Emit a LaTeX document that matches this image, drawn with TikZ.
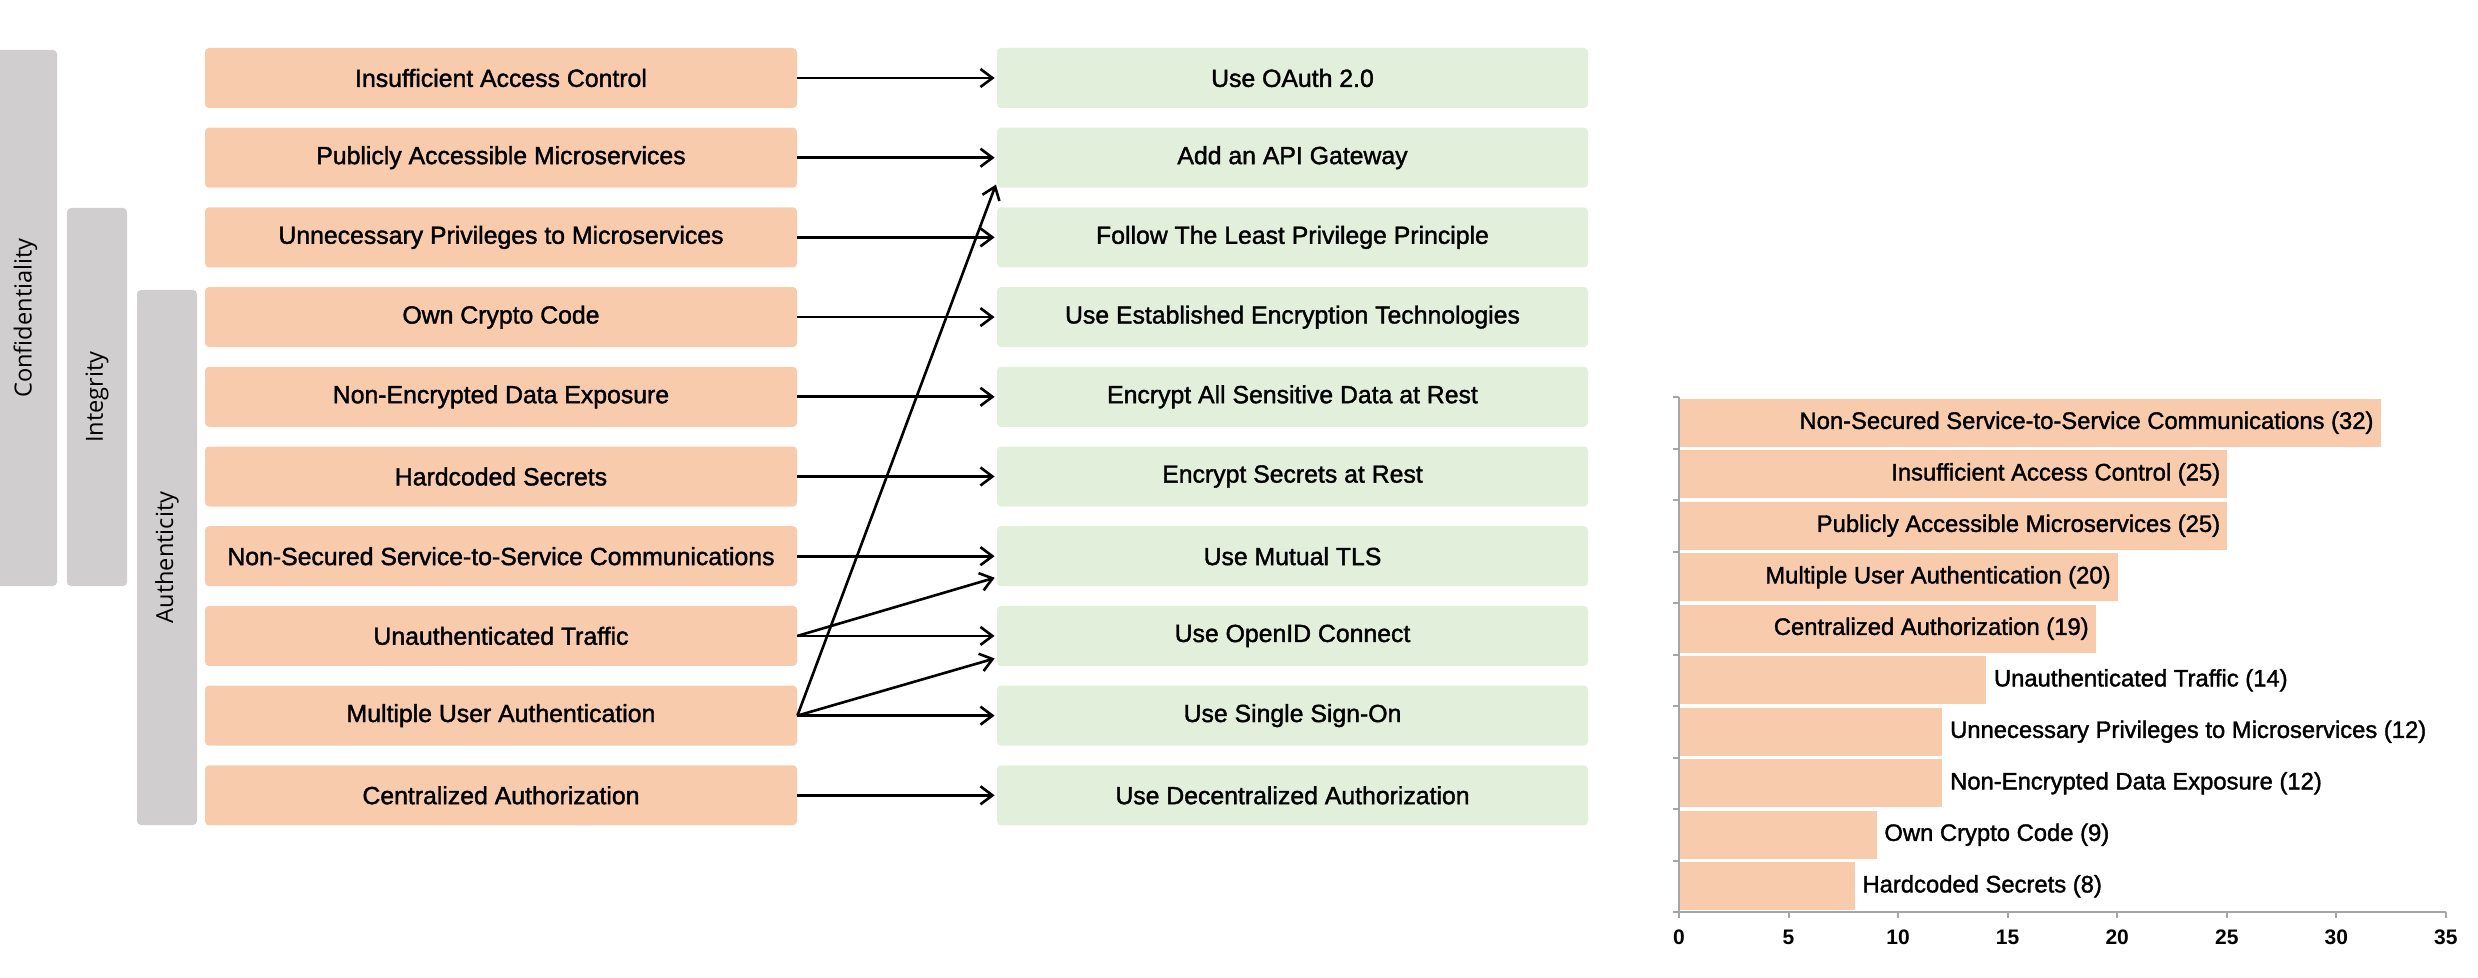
\documentclass[tikz,border=0pt]{standalone}
\usepackage{fontspec}
\setmainfont{Liberation Sans}
\newfontfamily\medfont{Liberation Sans}[FakeBold=1.5]
\newfontfamily\lblfont{Open Sans}
\usetikzlibrary{arrows.meta}
\definecolor{peach}{HTML}{F8CBAD}
\definecolor{mint}{HTML}{E2EFDA}
\definecolor{grpgray}{HTML}{D0CECE}
\definecolor{axisgray}{HTML}{A6A6A6}
\begin{document}
\begin{tikzpicture}[x=0.5pt,y=-0.5pt,
  prob/.style={fill=peach, rounded corners=2pt, minimum width=296pt, minimum height=30pt, inner sep=0pt, font=\medfont\fontsize{12.4}{15}\selectfont},
  sol/.style={fill=mint, rounded corners=2pt, minimum width=295.5pt, minimum height=30pt, inner sep=0pt, font=\medfont\fontsize{12.4}{15}\selectfont},
  grpbox/.style={fill=grpgray, rounded corners=2pt, rotate=90, inner sep=0pt, font=\lblfont\fontsize{11.8}{13}\selectfont},
  arr/.style={-{Straight Barb[length=6pt,width=9pt]}, line width=1.3pt, shorten >=1pt},
  barbox/.style={fill=peach, minimum height=24pt, inner sep=0pt, anchor=west},
  barlbl/.style={font=\medfont\fontsize{11.9}{14}\selectfont, inner sep=0pt},
  axisline/.style={draw=axisgray, line width=1pt},
  ticklbl/.style={font=\bfseries\fontsize{10.5}{12}\selectfont, inner sep=0pt}
]
\useasboundingbox (0,0) rectangle (2478,978);

% group bars
\node[grpbox, minimum width=268pt, minimum height=31.5pt] (conf) at (25.5,318) {Confidentiality};
\node[grpbox, minimum width=189pt, minimum height=30pt] (integ) at (97,397) {Integrity};
\node[grpbox, minimum width=267.5pt, minimum height=30pt] (auth) at (167,557.5) {Authenticity};

% problems
\node[prob] (p1) at (501,78) {Insufficient Access Control};
\node[prob] (p2) at (501,157.7) {Publicly Accessible Microservices};
\node[prob] (p3) at (501,237.4) {Unnecessary Privileges to Microservices};
\node[prob] (p4) at (501,317.1) {Own Crypto Code};
\node[prob] (p5) at (501,396.8) {Non-Encrypted Data Exposure};
\node[prob] (p6) at (501,476.5) {Hardcoded Secrets};
\node[prob] (p7) at (501,556.2) {Non-Secured Service-to-Service Communications};
\node[prob] (p8) at (501,635.9) {Unauthenticated Traffic};
\node[prob] (p9) at (501,715.6) {Multiple User Authentication};
\node[prob] (p10) at (501,795.3) {Centralized Authorization};

% solutions
\node[sol] (s1) at (1292.5,78) {Use OAuth 2.0};
\node[sol] (s2) at (1292.5,157.7) {Add an API Gateway};
\node[sol] (s3) at (1292.5,237.4) {Follow The Least Privilege Principle};
\node[sol] (s4) at (1292.5,317.1) {Use Established Encryption Technologies};
\node[sol] (s5) at (1292.5,396.8) {Encrypt All Sensitive Data at Rest};
\node[sol] (s6) at (1292.5,476.5) {Encrypt Secrets at Rest};
\node[sol] (s7) at (1292.5,556.2) {Use Mutual TLS};
\node[sol] (s8) at (1292.5,635.9) {Use OpenID Connect};
\node[sol] (s9) at (1292.5,715.6) {Use Single Sign-On};
\node[sol] (s10) at (1292.5,795.3) {Use Decentralized Authorization};

% connectors
\foreach \i in {1,...,10}{
  \draw[arr] (p\i.east) -- (s\i.west);
}
\draw[arr] (p8.east) -- ([yshift=-10.5pt]s7.west);
\draw[arr] (p9.east) -- ([yshift=-11pt]s8.west);
\draw[arr] (p9.east) -- ([yshift=-12.5pt]s2.west);

% bar chart
\foreach \v/\t [count=\i from 0] in {32/{Non-Secured Service-to-Service Communications (32)},25/{Insufficient Access Control (25)},25/{Publicly Accessible Microservices (25)},20/{Multiple User Authentication (20)},19/{Centralized Authorization (19)}}{
  \pgfmathsetmacro\w{\v*21.91*0.5}
  \node[barbox, minimum width=\w pt] (b\i) at (1679,{422.75+51.5*\i}) {};
  \node[barlbl, anchor=east] (l\i) at ([xshift=-3.5pt]b\i.east) {\t};
}
\foreach \v/\t [count=\i from 5] in {14/{Unauthenticated Traffic (14)},12/{Unnecessary Privileges to Microservices (12)},12/{Non-Encrypted Data Exposure (12)},9/{Own Crypto Code (9)},8/{Hardcoded Secrets (8)}}{
  \pgfmathsetmacro\w{\v*21.91*0.5}
  \node[barbox, minimum width=\w pt] (b\i) at (1679,{422.75+51.5*\i}) {};
  \node[barlbl, anchor=west] (l\i) at ([xshift=3.5pt]b\i.east) {\t};
}
\coordinate (ax0) at (1679,397);
\coordinate (axo) at (1679,912);
\coordinate (axe) at (2446,912);
\draw[axisline] (ax0) -- (axo) -- (axe);
\foreach \i in {0,...,10}{
  \draw[axisline] (1673,{397+51.5*\i}) -- (1679,{397+51.5*\i});
}
\foreach \k in {0,...,7}{
  \draw[axisline] ({1679+109.55*\k},912) -- ({1679+109.55*\k},918);
  \pgfmathtruncatemacro\lab{5*\k}
  \node[ticklbl] (t\k) at ({1679+109.55*\k},937) {\lab};
}
\end{tikzpicture}
\end{document}
